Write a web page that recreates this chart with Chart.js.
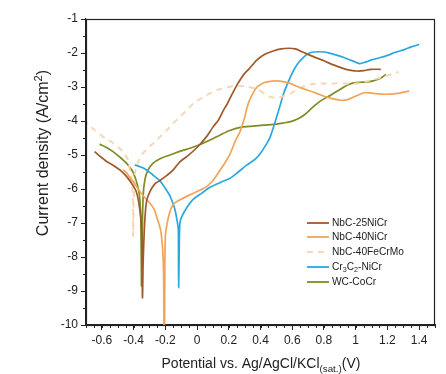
<!DOCTYPE html>
<html><head><meta charset="utf-8">
<script src="https://cdn.jsdelivr.net/npm/chart.js@4"></script>
<style>html,body{margin:0;padding:0;background:#fff}#wrap{width:446px;height:374px}</style>
</head><body><div id="wrap"><canvas id="c" width="446" height="374"></canvas></div>
<script>
// ---- data ----
const seriesNames = ['NbC-25NiCr','NbC-40NiCr','NbC-40FeCrMo','Cr3C2-NiCr','WC-CoCr'];
const nbc25X = [-0.646,-0.60,-0.57,-0.52,-0.487,-0.45,-0.413,-0.385,-0.37,-0.356,-0.35,-0.346,-0.344,-0.340,-0.335,-0.329,-0.318,-0.297,-0.266,-0.234,-0.19,-0.15,-0.108,-0.065,0.0,0.06,0.10,0.135,0.167,0.19,0.22,0.25,0.27,0.30,0.325,0.35,0.378,0.43,0.48,0.53,0.577,0.62,0.67,0.73,0.80,0.86,0.925,0.97,1.01,1.05,1.095,1.158];
const nbc25Y = [-4.90,-5.08,-5.19,-5.33,-5.44,-5.60,-5.83,-6.05,-6.33,-6.8,-7.22,-8.3,-9.2,-8.2,-7.5,-6.9,-6.35,-6.08,-5.85,-5.75,-5.6,-5.44,-5.2,-5.05,-4.78,-4.46,-4.18,-3.97,-3.68,-3.50,-3.22,-2.95,-2.80,-2.6,-2.48,-2.35,-2.2,-2.03,-1.94,-1.88,-1.86,-1.88,-1.98,-2.1,-2.23,-2.35,-2.46,-2.51,-2.53,-2.52,-2.48,-2.48];
const nbc40X = [-0.466,-0.445,-0.424,-0.39,-0.36,-0.33,-0.297,-0.27,-0.255,-0.23,-0.218,-0.212,-0.21,-0.208,-0.205,-0.203,-0.2,-0.19,-0.17,-0.15,-0.1,-0.044,0.02,0.06,0.10,0.146,0.18,0.21,0.24,0.272,0.30,0.315,0.34,0.378,0.41,0.44,0.504,0.55,0.59,0.64,0.694,0.75,0.80,0.85,0.905,0.95,0.99,1.053,1.10,1.158,1.21,1.264,1.337];
const nbc40Y = [-5.44,-5.52,-5.66,-5.86,-6.08,-6.25,-6.42,-6.6,-6.81,-7.2,-7.7,-8.3,-9.0,-10.2,-10.2,-8.5,-7.4,-7.05,-6.65,-6.45,-6.3,-6.17,-6.03,-5.93,-5.75,-5.44,-5.2,-4.95,-4.6,-4.3,-3.9,-3.6,-3.3,-3.0,-2.9,-2.85,-2.82,-2.85,-2.9,-3.0,-3.09,-3.18,-3.27,-3.34,-3.39,-3.37,-3.29,-3.17,-3.18,-3.21,-3.21,-3.19,-3.12];
const fecrmoX = [-0.72,-0.70,-0.65,-0.593,-0.545,-0.498,-0.46,-0.435,-0.424,-0.412,-0.405,-0.403,-0.403,-0.400,-0.395,-0.392,-0.37,-0.35,-0.31,-0.277,-0.23,-0.19,-0.15,-0.108,-0.06,-0.023,0.02,0.082,0.14,0.21,0.25,0.30,0.378,0.41,0.44,0.47,0.50,0.545,0.59,0.65,0.715,0.78,0.86,0.94,1.01,1.07,1.137,1.2,1.27];
const fecrmoY = [-3.98,-4.04,-4.25,-4.46,-4.6,-4.76,-4.95,-5.15,-5.45,-5.75,-6.3,-6.8,-7.38,-6.5,-5.8,-5.53,-5.2,-5.0,-4.8,-4.66,-4.45,-4.27,-4.06,-3.88,-3.66,-3.48,-3.35,-3.19,-3.07,-2.99,-2.97,-2.98,-3.06,-3.15,-3.24,-3.3,-3.31,-3.27,-3.19,-3.03,-2.92,-2.9,-2.9,-2.9,-2.9,-2.83,-2.75,-2.66,-2.56];
const cr3c2X = [-0.392,-0.35,-0.318,-0.28,-0.234,-0.2,-0.171,-0.15,-0.139,-0.125,-0.118,-0.117,-0.116,-0.113,-0.108,-0.095,-0.065,-0.023,0.03,0.082,0.15,0.21,0.26,0.315,0.367,0.40,0.44,0.462,0.494,0.52,0.546,0.58,0.61,0.64,0.673,0.70,0.736,0.80,0.84,0.884,0.93,0.968,1.0,1.027,1.06,1.095,1.15,1.2,1.25,1.306,1.35,1.40];
const cr3c2Y = [-5.29,-5.36,-5.44,-5.58,-5.76,-5.98,-6.2,-6.45,-6.61,-6.95,-7.2,-8.0,-8.9,-8.0,-7.0,-6.8,-6.55,-6.3,-6.12,-5.95,-5.8,-5.68,-5.5,-5.29,-5.12,-4.95,-4.66,-4.46,-4.0,-3.6,-3.19,-2.8,-2.5,-2.28,-2.12,-2.02,-1.97,-1.97,-2.01,-2.07,-2.14,-2.21,-2.27,-2.31,-2.27,-2.21,-2.14,-2.07,-1.98,-1.9,-1.82,-1.75];
const wcX = [-0.614,-0.57,-0.53,-0.49,-0.445,-0.41,-0.392,-0.375,-0.365,-0.358,-0.354,-0.352,-0.35,-0.346,-0.34,-0.329,-0.31,-0.277,-0.23,-0.171,-0.1,-0.044,0.02,0.082,0.146,0.21,0.272,0.35,0.42,0.483,0.54,0.59,0.63,0.673,0.715,0.758,0.80,0.842,0.885,0.926,0.96,0.99,1.03,1.074,1.11,1.137,1.165,1.19];
const wcY = [-4.68,-4.78,-4.9,-5.05,-5.24,-5.45,-5.64,-5.9,-6.12,-6.5,-6.9,-7.8,-8.85,-7.6,-6.22,-5.73,-5.45,-5.24,-5.1,-5.0,-4.88,-4.8,-4.69,-4.56,-4.41,-4.27,-4.19,-4.15,-4.12,-4.1,-4.06,-4.02,-3.95,-3.83,-3.66,-3.48,-3.35,-3.24,-3.12,-3.0,-2.92,-2.88,-2.86,-2.85,-2.82,-2.78,-2.72,-2.63];
const xTicks = [-0.6,-0.4,-0.2,0,0.2,0.4,0.6,0.8,1,1.2,1.4];
const xTickLabels = ['-0.6','-0.4','-0.2','0','0.2','0.4','0.6','0.8','1','1.2','1.4'];
const yTicks = [-1,-2,-3,-4,-5,-6,-7,-8,-9,-10];
const yTickLabels = ['-1','-2','-3','-4','-5','-6','-7','-8','-9','-10'];

const colors = ['#9e5a2c','#f2a458','#f6d8b8','#2aa8de','#7f8c24'];
const xsAll = [nbc25X,nbc40X,fecrmoX,cr3c2X,wcX];
const ysAll = [nbc25Y,nbc40Y,fecrmoY,cr3c2Y,wcY];
const FONT = '"Liberation Sans", Arial, sans-serif';

function pts(xs, ys){ return xs.map((x,i)=>({x:x, y:ys[i]})); }

const datasets = seriesNames.map((n,i)=>({
  label:n, data:pts(xsAll[i], ysAll[i]), showLine:true, pointRadius:0,
  borderColor:colors[i], borderWidth: i===2?2:1.7, borderDash: i===2?[6,5]:[],
  tension:0.3, fill:false
}));

function drawRich(ctx, parts, x, y, size){
  let cx = x;
  parts.forEach(p=>{
    const s = p.sub||p.sup ? size*0.7 : size;
    ctx.font = s+'px '+FONT;
    const dy = p.sub ? size*0.3 : (p.sup ? -size*0.4 : 0);
    ctx.fillText(p.t, cx, y+dy);
    cx += ctx.measureText(p.t).width;
  });
  return cx - x;
}
function richWidth(ctx, parts, size){
  let w=0; parts.forEach(p=>{const s=p.sub||p.sup?size*0.7:size; ctx.font=s+'px '+FONT; w+=ctx.measureText(p.t).width;}); return w;
}

const decor = {
  id:'decor',
  afterDraw(chart){
    const ctx = chart.ctx, a = chart.chartArea;
    const xs = chart.scales.x, ys = chart.scales.y;
    ctx.save();
    // frame
    ctx.strokeStyle='#222'; ctx.lineWidth=1.2;
    ctx.strokeRect(a.left+0.5, a.top+0.5, a.right-a.left-1, a.bottom-a.top);
    // minor ticks
    ctx.lineWidth=1;
    for(let v=-0.7; v<=1.5001; v+=0.05){
      const px = Math.round(xs.getPixelForValue(v))+0.5;
      ctx.beginPath(); ctx.moveTo(px, a.bottom); ctx.lineTo(px, a.bottom+3); ctx.stroke();
    }
    for(let v=-10; v<=-1; v+=0.5){
      const py = Math.round(ys.getPixelForValue(v))+0.5;
      ctx.beginPath(); ctx.moveTo(a.left, py); ctx.lineTo(a.left-3, py); ctx.stroke();
    }
    // titles
    ctx.fillStyle='#222'; ctx.textBaseline='alphabetic';
    const xt = [{t:'Potential vs. Ag/AgCl/KCl'},{t:'(sat.)',sub:true},{t:'(V)'}];
    const xw = richWidth(ctx, xt, 14);
    drawRich(ctx, xt, 261 - xw/2, 368, 14);
    ctx.save();
    ctx.translate(48, 153); ctx.rotate(-Math.PI/2);
    const yt = [{t:'Current density (A/cm'},{t:'2',sup:true},{t:')'}];
    const yw = richWidth(ctx, yt, 16);
    drawRich(ctx, yt, -yw/2, 0, 16);
    ctx.restore();
    // legend
    const legendParts = [
      [{t:'NbC-25NiCr'}],[{t:'NbC-40NiCr'}],[{t:'NbC-40FeCrMo'}],
      [{t:'Cr'},{t:'3',sub:true},{t:'C'},{t:'2',sub:true},{t:'-NiCr'}],[{t:'WC-CoCr'}]
    ];
    const rowY = [223,237,252,267,282];
    ctx.textBaseline='middle';
    legendParts.forEach((p,i)=>{
      ctx.strokeStyle=colors[i]; ctx.lineWidth= i===2?2:1.8;
      ctx.setLineDash(i===2?[6,5]:[]);
      ctx.beginPath(); ctx.moveTo(307, rowY[i]); ctx.lineTo(329, rowY[i]); ctx.stroke();
      ctx.setLineDash([]);
      ctx.fillStyle='#222';
      drawRich(ctx, p, 332, rowY[i], 10.2);
    });
    ctx.restore();
  }
};

new Chart(document.getElementById('c'), {
  type:'scatter',
  data:{datasets},
  options:{
    responsive:false, animation:false, devicePixelRatio:1,
    layout:{padding:{left:0,top:19,right:11,bottom:0}},
    plugins:{legend:{display:false}, tooltip:{enabled:false}},
    scales:{
      x:{type:'linear', min:-0.7, max:1.5,
        afterFit(s){ s.height = 49; },
        afterBuildTicks(s){ s.ticks = xTicks.map(v=>({value:v})); },
        ticks:{autoSkip:false, maxRotation:0, padding:3, color:'#222', font:{family:FONT,size:12},
          callback:(v)=>{const i=xTicks.findIndex(t=>Math.abs(t-v)<1e-6); return i>=0?xTickLabels[i]:'';}},
        grid:{display:true, drawOnChartArea:false, drawTicks:true, tickLength:5, tickColor:'#222', tickWidth:1},
        border:{display:true, color:'#222', width:1.2}
      },
      y:{type:'linear', min:-10, max:-1,
        afterFit(s){ s.width = 86; },
        afterBuildTicks(s){ s.ticks = yTicks.map(v=>({value:v})); },
        ticks:{autoSkip:false, padding:3, color:'#222', font:{family:FONT,size:12},
          callback:(v)=>{const i=yTicks.findIndex(t=>Math.abs(t-v)<1e-6); return i>=0?yTickLabels[i]:'';}},
        grid:{display:true, drawOnChartArea:false, drawTicks:true, tickLength:5, tickColor:'#222', tickWidth:1},
        border:{display:true, color:'#222', width:1.2}
      }
    }
  },
  plugins:[decor]
});
</script></body></html>
